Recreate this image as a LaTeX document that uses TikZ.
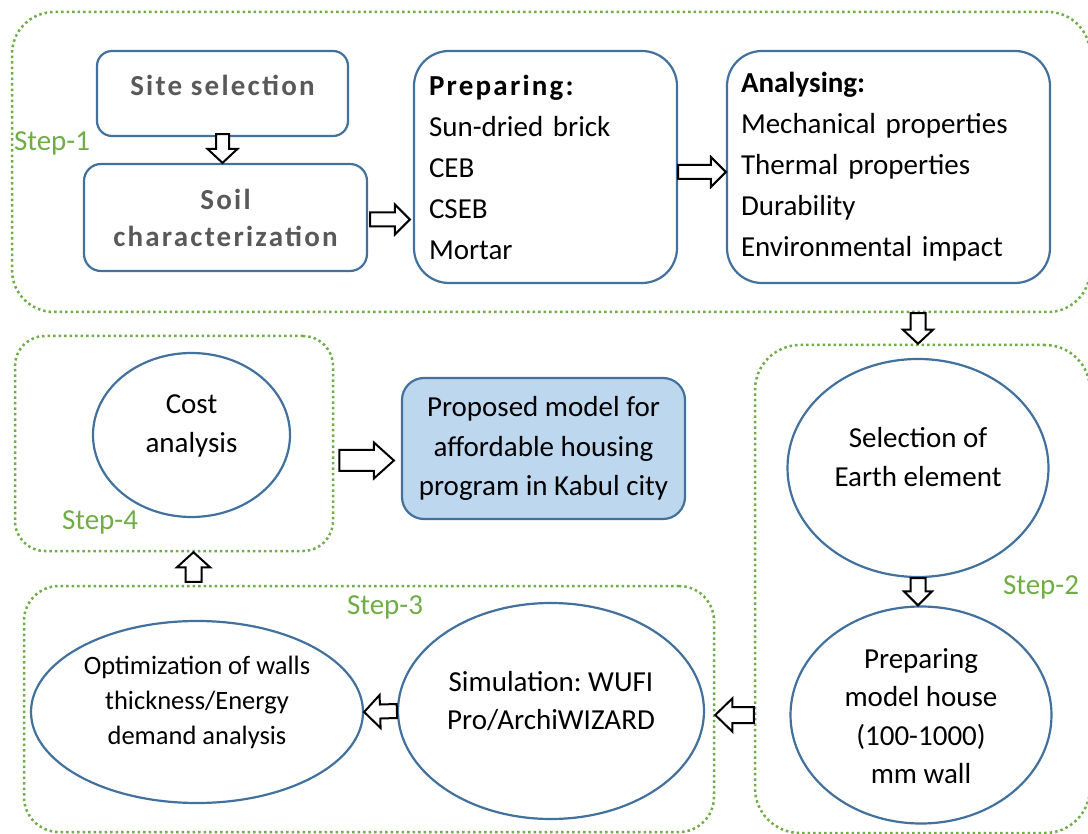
\documentclass[tikz,border=0pt]{standalone}
\usepackage{fontspec}
\setmainfont{Carlito}
\newfontfamily\spacedfont[LetterSpace=7.7]{Carlito}
\usetikzlibrary{calc,shapes.geometric}
\definecolor{stepgreen}{HTML}{70AD47}
\definecolor{boxblue}{HTML}{41719C}
\definecolor{modelfill}{HTML}{BDD7EE}
\definecolor{graytxt}{HTML}{595959}
\frenchspacing
\tikzset{
  rbox/.style={draw=boxblue, line width=2.2pt, rounded corners=#1, inner sep=0pt},
  ell/.style={ellipse, draw=boxblue, line width=2.2pt, inner sep=0pt},
  cont/.style={draw=stepgreen, line width=2.5pt, dash pattern=on 2.5pt off 3pt, inner sep=0pt, rounded corners=#1},
  steplabel/.style={text=stepgreen, font=\fontsize{29}{35}\selectfont, inner sep=0pt},
  txt/.style={align=center, inner sep=0pt, font=\fontsize{29}{39}\selectfont},
  barr/.style={draw=black, fill=white, line width=2pt, line join=miter}
}
% block arrow: start, end, shaft half width, head half width, head length
\newcommand\barrow[5]{%
  \draw[barr] ($(#1)!#3!90:(#2)$) -- ($(#2)!#5!(#1)!#3!90:(#2)$)
    -- ($(#2)!#5!(#1)!#4!90:(#2)$) -- (#2)
    -- ($(#2)!#5!(#1)!#4!-90:(#2)$) -- ($(#2)!#5!(#1)!#3!-90:(#2)$)
    -- ($(#1)!#3!-90:(#2)$) -- cycle;}
\begin{document}
\begin{tikzpicture}[x=1pt,y=-1pt]
\fill[white] (0,0) rectangle (1088,834);
\useasboundingbox (0,0) rectangle (1088,834);

% containers
\node[cont=42pt, minimum width=1078pt, minimum height=300pt] (step1) at (551,162) {};
\node[cont=45pt, minimum width=335pt, minimum height=488pt] (step2) at (922.5,589) {};
\node[cont=35pt, minimum width=690pt, minimum height=246pt] (step3) at (369,709) {};
\node[cont=30pt, minimum width=318pt, minimum height=215pt] (step4) at (174,443.5) {};

\node[steplabel] (l1) at (52,143) {Step-1};
\node[steplabel] (l2) at (1041,587) {Step-2};
\node[steplabel] (l3) at (385,607) {Step-3};
\node[steplabel] (l4) at (100,522) {Step-4};

% step 1 boxes
\node[rbox=15pt, minimum width=251pt, minimum height=85pt] (site) at (222.5,93.5) {};
\node[inner sep=0pt, text=graytxt, font=\fontsize{29}{37}\selectfont] (sitetxt) at (222.5,85) {\spacedfont\bfseries Site selection};
\node[rbox=17pt, minimum width=283pt, minimum height=107pt, align=center, text=graytxt,
      font=\fontsize{29}{37}\selectfont] (soil) at (225.5,217.5) {\spacedfont\bfseries Soil\\\spacedfont\bfseries characterization};
\node[rbox=35pt, inner xsep=15pt, text width=233pt, minimum height=232pt, align=left,
      font=\fontsize{29}{41}\selectfont] (prep) at (545.5,167)
  {{\spacedfont\bfseries Preparing:}\\Sun-dried brick\\CEB\\CSEB\\Mortar};
\node[rbox=35pt, inner xsep=14pt, text width=295pt, minimum height=232pt, align=left,
      font=\fontsize{29}{41}\selectfont] (anal) at (888.5,167)
  {\textbf{Analysing:}\\Mechanical properties\\Thermal properties\\Durability\\Environmental impact};

% step 2
\node[ell, minimum width=261pt, minimum height=218pt] (sel) at (918,468) {};
\node[txt] (seltxt) at (918,457) {Selection of\\Earth element};
\node[ell, minimum width=261pt, minimum height=217pt] (house) at (921,715) {};
\node[txt, font=\fontsize{29}{38.5}\selectfont] (housetxt) at (921,716) {Preparing\\model house\\(100-1000)\\mm wall};

% step 3
\node[ell, minimum width=306pt, minimum height=216pt] (sim) at (551,711) {};
\node[txt, font=\fontsize{29}{38}\selectfont] (simtxt) at (551,701) {Simulation: WUFI\\Pro/ArchiWIZARD};
\node[ell, minimum width=332pt, minimum height=182pt] (opt) at (197,712) {};
\node[txt, font=\fontsize{26.5}{35}\selectfont] (opttxt) at (197,702) {Optimization of walls\\thickness/Energy\\demand analysis};

% step 4
\node[ell, minimum width=197pt, minimum height=164pt] (cost) at (191.5,435) {};
\node[txt] (costtxt) at (191.5,426) {Cost\\analysis};
\node[rbox=22pt, fill=modelfill, minimum width=283pt, minimum height=141pt, align=center,
      font=\fontsize{29}{39.5}\selectfont] (model) at (543.5,448.5)
  {Proposed model for\\affordable housing\\program in Kabul city};

% arrow end points
\coordinate (a1s) at ($(site.south)+(0,-3)$);
\coordinate (a1e) at (site.south |- soil.north);
\coordinate (a2s) at ($(soil.east)+(2,2)$);
\coordinate (a2e) at ($(soil.east -| prep.west)+(-3,2)$);
\coordinate (a3s) at ($(prep.east)+(0,5)$);
\coordinate (a3e) at ($(prep.east -| anal.west)+(0,5)$);
\coordinate (a4s) at (sel |- step1.south);
\coordinate (a4e) at (sel |- step2.north);
\coordinate (a5s) at (sel.south);
\coordinate (a5e) at (sel.south |- house.north);
\coordinate (a6s) at (step2.west |- house);
\coordinate (a6e) at (step3.east |- house);
\coordinate (a7s) at (sim.west);
\coordinate (a7e) at (opt.east);
\coordinate (a8s) at ($(cost |- step3.north)+(2,-3)$);
\coordinate (a8e) at ($(cost |- step4.south)+(2,0)$);
\coordinate (a9s) at ($(step4.east)+(5,17)$);
\coordinate (a9e) at ($(step4.east -| model.west)+(-7,17)$);

\barrow{a1s}{a1e}{6.5pt}{15pt}{14pt}
\barrow{a2s}{a2e}{7pt}{15pt}{15pt}
\barrow{a3s}{a3e}{7pt}{15pt}{15pt}
\barrow{a4s}{a4e}{7.5pt}{15pt}{14pt}
\barrow{a5s}{a5e}{7.5pt}{14pt}{14pt}
\barrow{a6s}{a6e}{8pt}{16.5pt}{17pt}
\barrow{a7s}{a7e}{7pt}{16.5pt}{16pt}
\barrow{a8s}{a8e}{8pt}{16.5pt}{15pt}
\barrow{a9s}{a9e}{10.5pt}{18pt}{20pt}
\end{tikzpicture}
\end{document}
